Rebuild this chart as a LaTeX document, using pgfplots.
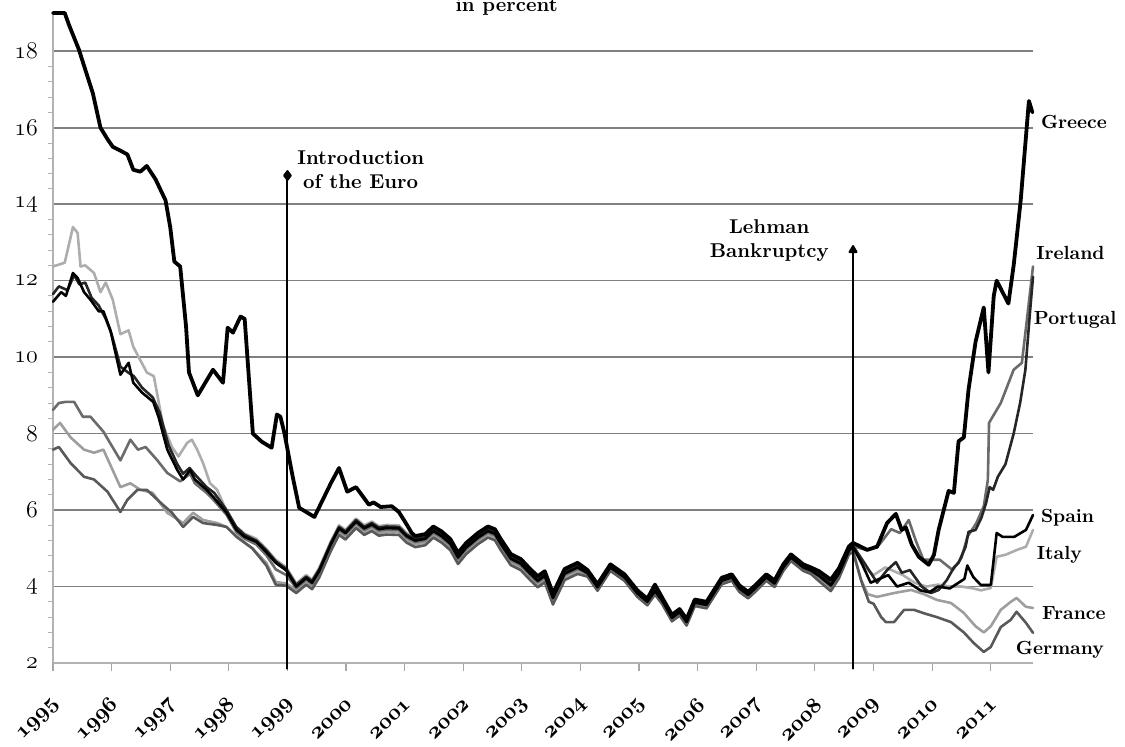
\documentclass[border=0pt]{standalone}
\usepackage{pgfplots}
\pgfplotsset{compat=1.18}
\usepackage{pgfplotstable}

% 10-year government bond yields, in percent
\pgfplotstableread{
x y
1995.00 19.00
1995.20 19.00
1995.27 18.70
1995.44 18.05
1995.68 16.90
1995.81 16.00
1995.93 15.70
1996.02 15.50
1996.15 15.40
1996.27 15.30
1996.37 14.90
1996.49 14.85
1996.60 15.00
1996.75 14.65
1996.92 14.10
1997.00 13.40
1997.07 12.50
1997.17 12.37
1997.27 10.80
1997.32 9.60
1997.47 9.00
1997.73 9.67
1997.90 9.33
1997.98 10.77
1998.07 10.64
1998.20 11.06
1998.27 11.00
1998.41 8.00
1998.56 7.79
1998.73 7.63
1998.82 8.50
1998.88 8.44
1998.95 8.00
1999.03 7.35
1999.09 6.87
1999.20 6.06
1999.46 5.82
1999.74 6.70
1999.88 7.10
2000.02 6.48
2000.17 6.60
2000.39 6.14
2000.47 6.20
2000.59 6.08
2000.78 6.10
2000.90 5.95
2001.02 5.66
2001.12 5.40
2001.18 5.32
}\grEarly

\pgfplotstableread{
x y
1995.00 12.37
1995.20 12.47
1995.34 13.40
1995.42 13.25
1995.47 12.37
1995.55 12.40
1995.70 12.20
1995.81 11.70
1995.90 11.95
1996.02 11.50
1996.15 10.60
1996.29 10.70
1996.37 10.27
1996.60 9.60
1996.72 9.50
1996.88 8.20
1997.03 7.65
1997.14 7.40
1997.29 7.76
1997.37 7.84
1997.46 7.58
1997.56 7.23
1997.68 6.70
1997.80 6.53
1997.93 6.08
1998.10 5.60
1998.27 5.38
1998.47 5.25
1998.64 4.98
1998.80 4.70
1998.98 4.50
}\itEarly

\pgfplotstableread{
x y
1995.00 11.45
1995.14 11.70
1995.22 11.60
1995.34 12.20
1995.42 12.07
1995.53 11.70
1995.64 11.50
1995.78 11.20
1995.86 11.20
1995.98 10.70
1996.15 9.54
1996.29 9.85
1996.37 9.33
1996.52 9.07
1996.71 8.83
1996.80 8.44
1996.95 7.58
1997.12 7.05
1997.22 6.80
1997.34 7.05
1997.42 6.80
1997.62 6.53
1997.73 6.35
1997.96 5.93
1998.13 5.48
1998.27 5.30
1998.47 5.17
1998.64 4.90
1998.80 4.62
1998.98 4.42
}\esEarly

\pgfplotstableread{
x y
1995.00 11.65
1995.10 11.85
1995.25 11.75
1995.36 12.15
1995.45 11.90
1995.55 11.95
1995.66 11.55
1995.78 11.35
1995.90 11.00
1996.00 10.60
1996.15 9.75
1996.28 9.60
1996.38 9.50
1996.52 9.20
1996.70 8.95
1996.82 8.55
1996.97 7.70
1997.12 7.20
1997.22 6.95
1997.33 7.10
1997.44 6.90
1997.62 6.60
1997.75 6.45
1997.96 6.00
1998.13 5.55
1998.27 5.35
1998.47 5.20
1998.64 4.95
1998.80 4.66
1998.98 4.46
}\ptEarly

\pgfplotstableread{
x y
1995.00 8.62
1995.10 8.80
1995.22 8.83
1995.36 8.83
1995.51 8.44
1995.64 8.44
1995.86 8.05
1996.15 7.30
1996.32 7.84
1996.45 7.58
1996.58 7.65
1996.78 7.30
1996.95 6.97
1997.17 6.75
1997.34 6.95
1997.42 6.70
1997.62 6.45
1997.73 6.28
1997.96 5.88
1998.13 5.42
1998.27 5.25
1998.47 5.10
1998.64 4.82
1998.80 4.45
1998.98 4.30
}\ieEarly

\pgfplotstableread{
x y
1995.00 8.10
1995.12 8.28
1995.30 7.90
1995.53 7.58
1995.70 7.50
1995.86 7.58
1996.15 6.60
1996.32 6.70
1996.49 6.53
1996.70 6.45
1996.95 5.93
1997.22 5.66
1997.39 5.93
1997.56 5.74
1997.80 5.66
1997.96 5.56
1998.13 5.32
1998.40 5.00
1998.64 4.62
1998.80 4.12
1998.98 4.08
}\frEarly

\pgfplotstableread{
x y
1995.00 7.58
1995.10 7.65
1995.30 7.23
1995.53 6.87
1995.70 6.80
1995.93 6.48
1996.15 5.95
1996.27 6.27
1996.44 6.53
1996.60 6.53
1996.83 6.20
1997.03 5.93
1997.22 5.56
1997.39 5.82
1997.56 5.66
1997.80 5.61
1997.96 5.56
1998.13 5.30
1998.40 5.00
1998.64 4.55
1998.80 4.05
1998.98 4.02
}\deEarly

% the converged years, 1999 to Lehman
\pgfplotstableread{
x gr it pt es ie fr de
1998.98 nan 4.50 4.46 4.42 4.30 4.08 4.02
1999.15 nan 4.08 4.04 4.00 3.96 3.90 3.83
1999.32 nan 4.30 4.26 4.22 4.18 4.12 4.05
1999.42 nan 4.18 4.14 4.10 4.06 4.00 3.93
1999.54 nan 4.48 4.44 4.40 4.36 4.30 4.23
1999.74 nan 5.18 5.14 5.10 5.06 5.00 4.93
1999.88 nan 5.60 5.56 5.52 5.48 5.42 5.35
1999.99 nan 5.48 5.44 5.40 5.36 5.30 5.23
2000.17 nan 5.78 5.74 5.70 5.66 5.60 5.53
2000.31 nan 5.60 5.56 5.52 5.48 5.42 5.35
2000.44 nan 5.70 5.66 5.62 5.58 5.52 5.45
2000.56 nan 5.58 5.54 5.50 5.46 5.40 5.33
2000.69 nan 5.61 5.57 5.53 5.49 5.43 5.36
2000.90 nan 5.60 5.56 5.52 5.48 5.42 5.35
2001.03 nan 5.40 5.36 5.32 5.28 5.22 5.15
2001.18 5.32 5.28 5.24 5.20 5.16 5.10 5.03
2001.35 5.37 5.33 5.29 5.25 5.21 5.15 5.08
2001.49 5.57 5.53 5.49 5.45 5.41 5.35 5.28
2001.63 5.44 5.40 5.36 5.32 5.28 5.22 5.15
2001.78 5.24 5.20 5.16 5.12 5.08 5.02 4.95
2001.91 4.88 4.84 4.80 4.76 4.72 4.66 4.59
2002.05 5.14 5.10 5.06 5.02 4.98 4.92 4.85
2002.25 5.40 5.36 5.32 5.28 5.24 5.18 5.11
2002.42 5.57 5.53 5.49 5.45 5.41 5.35 5.28
2002.54 5.50 5.46 5.42 5.38 5.34 5.28 5.21
2002.64 5.24 5.20 5.16 5.12 5.08 5.02 4.95
2002.81 4.85 4.81 4.77 4.73 4.69 4.63 4.56
2002.98 4.72 4.68 4.64 4.60 4.56 4.50 4.43
2003.14 4.46 4.42 4.38 4.34 4.30 4.24 4.17
2003.27 4.27 4.23 4.19 4.15 4.11 4.05 3.98
2003.39 4.40 4.36 4.32 4.28 4.24 4.18 4.11
2003.53 3.82 3.78 3.74 3.70 3.66 3.60 3.53
2003.73 4.46 4.42 4.38 4.34 4.30 4.24 4.17
2003.95 4.62 4.58 4.54 4.50 4.46 4.40 4.33
2004.12 4.43 4.40 4.38 4.35 4.33 4.30 4.26
2004.29 4.06 4.03 4.01 3.98 3.96 3.93 3.89
2004.51 4.58 4.55 4.53 4.50 4.48 4.45 4.41
2004.75 4.32 4.29 4.27 4.24 4.22 4.19 4.15
2004.97 3.90 3.87 3.85 3.82 3.80 3.77 3.73
2005.14 3.68 3.65 3.63 3.60 3.58 3.55 3.51
2005.27 4.05 3.93 3.91 3.88 3.86 3.83 3.79
2005.39 3.72 3.69 3.67 3.64 3.62 3.59 3.55
2005.56 3.26 3.23 3.21 3.18 3.16 3.13 3.09
2005.69 3.41 3.38 3.36 3.33 3.31 3.28 3.24
2005.81 3.15 3.12 3.10 3.07 3.05 3.02 2.98
2005.95 3.66 3.63 3.61 3.58 3.56 3.53 3.49
2006.15 3.60 3.57 3.55 3.52 3.50 3.47 3.43
2006.41 4.23 4.20 4.18 4.15 4.13 4.10 4.06
2006.58 4.32 4.29 4.27 4.24 4.22 4.19 4.15
2006.71 4.03 4.00 3.98 3.95 3.93 3.90 3.86
2006.86 3.86 3.83 3.81 3.78 3.76 3.73 3.69
2007.00 4.06 4.03 4.01 3.98 3.96 3.93 3.89
2007.17 4.32 4.29 4.27 4.24 4.22 4.19 4.15
2007.31 4.16 4.13 4.11 4.08 4.06 4.03 3.99
2007.46 4.58 4.55 4.53 4.50 4.48 4.45 4.41
2007.59 4.84 4.81 4.79 4.76 4.74 4.71 4.67
2007.80 4.58 4.55 4.53 4.50 4.48 4.45 4.41
2007.93 4.50 4.47 4.45 4.42 4.40 4.37 4.33
2008.07 4.40 4.36 4.33 4.28 4.26 4.20 4.14
2008.27 4.18 4.12 4.08 4.03 4.00 3.95 3.88
2008.41 4.48 4.42 4.39 4.34 4.31 4.27 4.22
2008.58 5.05 5.00 4.98 4.94 4.92 4.88 4.84
2008.65 5.14 5.10 5.06 5.03 5.05 4.95 4.90
}\mid

\pgfplotstableread{
x y
2008.65 5.14
2008.89 4.96
2009.06 5.04
2009.23 5.66
2009.38 5.90
2009.48 5.48
2009.55 5.55
2009.65 5.10
2009.77 4.78
2009.94 4.57
2010.03 4.83
2010.11 5.48
2010.28 6.50
2010.37 6.45
2010.45 7.80
2010.54 7.90
2010.62 9.15
2010.74 10.40
2010.88 11.30
2010.96 9.60
2011.05 11.60
2011.10 12.00
2011.30 11.40
2011.39 12.40
2011.44 13.10
2011.51 14.10
2011.65 16.70
2011.71 16.40
}\grLate

\pgfplotstableread{
x y
2008.65 5.10
2008.85 4.50
2009.00 4.30
2009.20 4.50
2009.35 4.40
2009.50 4.30
2009.70 4.10
2009.90 4.00
2010.10 4.05
2010.30 4.00
2010.50 4.00
2010.70 3.95
2010.83 3.90
2011.00 3.96
2011.10 4.78
2011.25 4.83
2011.45 4.96
2011.60 5.04
2011.72 5.48
}\itLate

\pgfplotstableread{
x y
2008.65 5.03
2008.80 4.60
2008.95 4.10
2009.10 4.20
2009.25 4.30
2009.40 4.00
2009.60 4.10
2009.80 3.90
2009.95 3.85
2010.10 4.00
2010.30 3.95
2010.45 4.10
2010.55 4.20
2010.60 4.55
2010.70 4.25
2010.83 4.04
2011.00 4.04
2011.10 5.40
2011.20 5.30
2011.40 5.30
2011.60 5.48
2011.72 5.87
}\esLate

\pgfplotstableread{
x y
2008.65 5.06
2008.85 4.60
2009.06 4.10
2009.23 4.43
2009.38 4.64
2009.48 4.36
2009.62 4.43
2009.82 4.00
2009.98 3.83
2010.11 3.91
2010.25 4.17
2010.37 4.50
2010.45 4.62
2010.57 5.04
2010.62 5.43
2010.74 5.48
2010.84 5.80
2010.92 6.19
2010.98 6.60
2011.04 6.53
2011.12 6.87
2011.25 7.20
2011.39 8.00
2011.50 8.80
2011.59 9.67
2011.67 11.20
2011.72 12.10
}\ptLate

\pgfplotstableread{
x y
2008.65 5.05
2008.90 4.95
2009.10 5.10
2009.30 5.50
2009.45 5.40
2009.60 5.74
2009.72 5.20
2009.85 4.70
2010.13 4.70
2010.35 4.43
2010.50 4.75
2010.60 5.30
2010.75 5.65
2010.88 6.10
2010.95 6.79
2010.97 8.28
2011.17 8.80
2011.39 9.67
2011.53 9.85
2011.61 10.90
2011.72 12.37
}\ieLate

\pgfplotstableread{
x y
2008.65 4.95
2008.78 4.20
2008.90 3.80
2009.06 3.73
2009.35 3.83
2009.64 3.91
2009.86 3.80
2010.08 3.65
2010.32 3.57
2010.54 3.31
2010.74 2.96
2010.88 2.80
2011.00 2.96
2011.17 3.39
2011.34 3.60
2011.44 3.70
2011.60 3.47
2011.72 3.44
}\frLate

\pgfplotstableread{
x y
2008.65 4.90
2008.80 4.10
2008.92 3.60
2009.00 3.55
2009.13 3.20
2009.21 3.07
2009.35 3.07
2009.52 3.39
2009.69 3.39
2009.86 3.30
2010.08 3.20
2010.32 3.07
2010.54 2.80
2010.71 2.52
2010.88 2.29
2011.00 2.42
2011.17 2.94
2011.34 3.13
2011.44 3.34
2011.60 3.05
2011.72 2.79
}\deLate

\begin{document}
\begin{tikzpicture}
\begin{axis}[
  name=ax,
  scale only axis,
  width=490pt, height=325pt,
  xmin=1995, xmax=2011.72,
  ymin=2, ymax=19,
  axis lines*=left,
  axis line style={black!30, line width=0.6pt},
  xtick={1995,...,2011},
  ytick={2,4,...,18},
  minor y tick num=4,
  ymajorgrids,
  major grid style={black!50, line width=0.8pt},
  tick align=outside,
  major tick length=4pt,
  minor tick length=2.5pt,
  x tick style={black!35, line width=0.6pt},
  major y tick style={draw=none},
  minor y tick style={black!30, line width=0.5pt},
  /pgf/number format/1000 sep={},
  xticklabel={$\mathnormal{\pgfmathprintnumber{\tick}}$},
  yticklabel={$\mathnormal{\pgfmathprintnumber{\tick}}$},
  xticklabel style={font=\boldmath\fontsize{11}{11}\selectfont,
    rotate=45, anchor=east, inner sep=1pt, xshift=-8.5pt, yshift=-12pt},
  yticklabel style={font=\fontsize{12}{12}\selectfont, xshift=0pt},
  clip=false,
  every axis plot/.append style={line join=round, line cap=round, mark=none},
]
% France
\addplot[black!38, line width=1.3pt] table {\frEarly};
\addplot[black!38, line width=1.3pt] table[x=x, y=fr] {\mid};
\addplot[black!38, line width=1.3pt] table {\frLate};
% Italy
\addplot[black!32, line width=1.3pt] table {\itEarly};
\addplot[black!32, line width=1.3pt] table[x=x, y=it] {\mid};
\addplot[black!32, line width=1.3pt] table {\itLate};
% Germany
\addplot[black!65, line width=1.3pt] table {\deEarly};
\addplot[black!65, line width=1.3pt] table[x=x, y=de] {\mid};
\addplot[black!65, line width=1.3pt] table {\deLate};
% Ireland
\addplot[black!58, line width=1.3pt] table {\ieEarly};
\addplot[black!58, line width=1.3pt] table[x=x, y=ie] {\mid};
\addplot[black!58, line width=1.3pt] table {\ieLate};
% Portugal
\addplot[black!85, line width=1.3pt] table {\ptEarly};
\addplot[black!85, line width=1.3pt] table[x=x, y=pt] {\mid};
\addplot[black!85, line width=1.3pt] table {\ptLate};
% Spain
\addplot[black, line width=1.3pt] table {\esEarly};
\addplot[black, line width=1.3pt] table[x=x, y=es] {\mid};
\addplot[black, line width=1.3pt] table {\esLate};
% Greece
\addplot[black, line width=1.9pt] table {\grEarly};
\addplot[black, line width=1.9pt] table[x=x, y=gr] {\mid};
\addplot[black, line width=1.9pt] table {\grLate};

% event markers
\addplot[black, line width=1pt, mark=diamond*, mark size=2.2pt, mark indices={2}]
  coordinates {(1999,1.85) (1999,14.75)};
\addplot[black, line width=1pt, mark=triangle*, mark size=2pt, mark indices={2}]
  coordinates {(2008.65,1.85) (2008.65,12.8)};

\begin{scope}[every node/.style={font=\bfseries\fontsize{10}{12}\selectfont}]
\node[align=center] at (axis cs:2000.25,14.9) {Introduction\\of the Euro};
\node[align=center] at (axis cs:2007.22,13.05) {Lehman\\Bankruptcy};
\end{scope}
\begin{scope}[every node/.style={font=\bfseries\fontsize{9.5}{11}\selectfont, anchor=west, inner sep=0pt}]
\node at (axis cs:2011.85,16.16) {Greece};
\node at (axis cs:2011.77,12.73) {Ireland};
\node at (axis cs:2011.73,10.98) {Portugal};
\node at (axis cs:2011.85,5.80) {Spain};
\node at (axis cs:2011.78,4.83) {Italy};
\node at (axis cs:2011.87,3.31) {France};
\node at (axis cs:2011.42,2.34) {Germany};
\end{scope}
\node[overlay, anchor=base, font=\bfseries\fontsize{10}{12}\selectfont]
  at ([yshift=1pt]axis cs:2002.74,19) {in percent};
\end{axis}
\pgfresetboundingbox
\path[use as bounding box] ([xshift=-26.5pt,yshift=-41.5pt]ax.south west)
  rectangle ([xshift=46pt,yshift=6.5pt]ax.north east);
\end{tikzpicture}
\end{document}
